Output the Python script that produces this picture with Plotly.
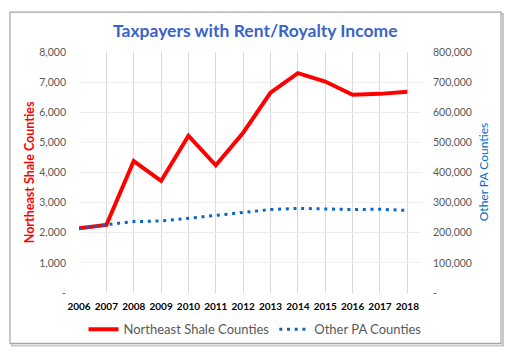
import plotly.graph_objects as go

years = [2006, 2007, 2008, 2009, 2010, 2011, 2012, 2013, 2014, 2015, 2016, 2017, 2018]
northeast = [2150, 2260, 4380, 3720, 5220, 4240, 5320, 6650, 7300, 7020, 6580, 6610, 6680]
other_pa = [213000, 227000, 237000, 239000, 248000, 257000, 268000, 277000, 281000, 279000, 277000, 278000, 274000]

left_ticks = [0, 1000, 2000, 3000, 4000, 5000, 6000, 7000, 8000]
left_ticktext = ["-", "1,000", "2,000", "3,000", "4,000", "5,000", "6,000", "7,000", "8,000"]
right_ticks = [0, 100000, 200000, 300000, 400000, 500000, 600000, 700000, 800000]
right_ticktext = ["-", "100,000", "200,000", "300,000", "400,000", "500,000", "600,000", "700,000", "800,000"]

FONT = "Lato"
GREY = "#595959"

fig = go.Figure()
fig.add_trace(go.Scatter(
    x=years, y=northeast, name="Northeast Shale Counties", mode="lines",
    line=dict(color="#FF0000", width=4), yaxis="y"))
fig.add_trace(go.Scatter(
    x=years, y=other_pa, name="Other PA Counties", mode="lines",
    line=dict(color="#0A66C8", width=3, dash="3px,4.7px"), yaxis="y2"))

# page body has a default 8px margin; work in window pixels and shift
OFF = 8
W, H = 512 - OFF, 359 - OFF
L, R, T, B = 79 - OFF, 421 - OFF, 52 - OFF, 293.5 - OFF
pw, ph = R - L, B - T

def px(x):
    return (x - OFF - L) / pw

def py(y):
    return (B - (y - OFF)) / ph

fig.update_layout(
    width=W, height=H,
    margin=dict(l=L, r=W - R, t=T, b=H - B, pad=0, autoexpand=False),
    paper_bgcolor="white", plot_bgcolor="white",
    font=dict(family=FONT, color=GREY),
    showlegend=True,
    legend=dict(orientation="h", x=px(255), xanchor="center", y=py(330), yanchor="middle",
                font=dict(family=FONT, size=13, color=GREY), bgcolor="rgba(0,0,0,0)",
                traceorder="normal", itemwidth=30),
    xaxis=dict(range=[2006, 2018.5], tickvals=years, ticktext=[str(y) for y in years],
               showgrid=True, gridcolor="#D9D9D9", gridwidth=1, zeroline=False,
               showline=False, ticks="", ticklabelstandoff=6,
               tickfont=dict(family=FONT, size=10, color="#000000", weight="bold")),
    yaxis=dict(range=[0, 8000], tickvals=left_ticks, ticktext=left_ticktext,
               showgrid=True, gridcolor="#EDEDED", gridwidth=1, zeroline=False,
               showline=False, ticks="", ticklabelstandoff=12,
               tickfont=dict(family=FONT, size=10.5, color=GREY)),
    yaxis2=dict(range=[0, 800000], tickvals=right_ticks, ticktext=right_ticktext,
                overlaying="y", side="right", showgrid=False, zeroline=False,
                showline=False, ticks="", ticklabelstandoff=11,
                tickfont=dict(family=FONT, size=10.5, color=GREY)),
)

fig.add_annotation(text="<b>Taxpayers with Rent/Royalty Income</b>", xref="paper", yref="paper",
                   x=px(255), y=py(30), xanchor="center", yanchor="middle", showarrow=False,
                   font=dict(family=FONT, size=17.5, color="#3A64C8"))
fig.add_annotation(text="<b>Northeast Shale Counties</b>", xref="paper", yref="paper",
                   x=px(29), y=py(172.5), xanchor="center", yanchor="middle", showarrow=False,
                   textangle=-90, font=dict(family=FONT, size=12.5, color="#FF0000"))
fig.add_annotation(text="Other PA Counties", xref="paper", yref="paper",
                   x=px(483), y=py(172.5), xanchor="center", yanchor="middle", showarrow=False,
                   textangle=-90, font=dict(family=FONT, size=12, color="#0070C0"))

# outer chart frame with shadow
fig.add_shape(type="rect", xref="paper", yref="paper",
              x0=px(12), x1=px(503), y0=py(346), y1=py(14),
              line=dict(color="#C8C8C8", width=2), layer="below")
fig.add_shape(type="rect", xref="paper", yref="paper",
              x0=px(10), x1=px(501), y0=py(344), y1=py(12),
              line=dict(color="#A6A6A6", width=1.2), fillcolor="white", layer="below")

fig.write_html("out.html")
